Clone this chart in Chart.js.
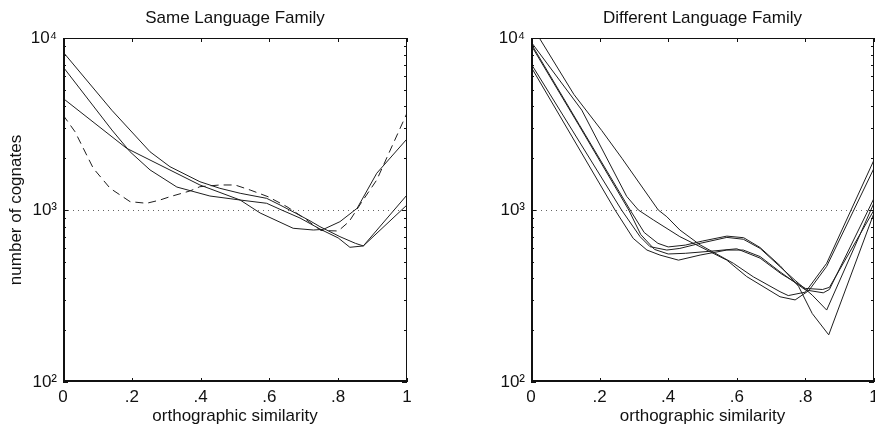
<!DOCTYPE html>
<html>
<head>
<meta charset="utf-8">
<script src="https://cdn.jsdelivr.net/npm/chart.js@4.4.1/dist/chart.umd.min.js"></script>
<style>
  html, body { margin: 0; padding: 0; background: #fff; }
  #wrap { position: relative; width: 875px; height: 428px; overflow: hidden; }
  #same { position: absolute; left: 0; top: 0; }
  #diff { position: absolute; left: 470px; top: 0; }
</style>
</head>
<body>
<div id="wrap">
  <canvas id="same" width="470" height="428"></canvas>
  <canvas id="diff" width="405" height="428"></canvas>
</div>
<script>
// axis ticks
const xTicks = [0, 0.2, 0.4, 0.6, 0.8, 1];
const xTickLabels = ['0', '.2', '.4', '.6', '.8', '1'];
const yTicks = [100, 1000, 10000];
const yTickLabels = ['10²', '10³', '10⁴'];
const refLevel = 1000; // dotted line

// Same Language Family  [similarity, number of cognates]
const sameA = [[0,8300],[0.142,3800],[0.253,2180],[0.311,1785],[0.398,1460],[0.456,1337],[0.515,1251],[0.592,1169],[0.631,1069],[0.677,957],[0.718,865],[0.747,800],[0.805,700],[0.85,640],[0.873,618],[1,1070]];
const sameB = [[0,6800],[0.142,2920],[0.195,2180],[0.253,1710],[0.331,1360],[0.427,1206],[0.515,1143],[0.573,961],[0.669,783],[0.728,765],[0.757,772],[0.805,855],[0.855,1023],[0.912,1635],[1,2590]];
const sameC = [[0,4460],[0.185,2284],[0.282,1826],[0.398,1398],[0.515,1143],[0.592,1094],[0.631,1009],[0.689,898],[0.747,775],[0.80,688],[0.834,607],[0.873,618],[1,1223]];
const sameDashed = [[0,3570],[0.035,2850],[0.088,1748],[0.137,1337],[0.195,1118],[0.243,1094],[0.282,1143],[0.311,1195],[0.369,1290],[0.398,1366],[0.456,1398],[0.50,1398],[0.544,1307],[0.596,1195],[0.651,1045],[0.70,900],[0.75,760],[0.80,755],[0.832,858],[0.868,1110],[0.912,1494],[1,3660]];

// Different Language Family
const diffA = [[0,12000],[0.125,4700],[0.206,2900],[0.265,2000],[0.371,1000],[0.396,914],[0.434,765],[0.493,627],[0.59,490],[0.648,409],[0.726,335],[0.75,318],[0.80,333],[0.862,490],[1,1954]];
const diffB = [[0,9500],[0.148,3810],[0.279,1200],[0.313,1000],[0.357,875],[0.434,700],[0.493,612],[0.571,511],[0.629,410],[0.726,313],[0.77,300],[0.81,340],[0.862,470],[1,1750]];
const diffC = [[0,9300],[0.14,3150],[0.289,1000],[0.33,740],[0.37,640],[0.40,610],[0.45,625],[0.50,660],[0.571,705],[0.62,690],[0.668,605],[0.726,475],[0.78,360],[0.82,250],[0.868,188],[1,960]];
const diffD = [[0,7100],[0.12,2915],[0.264,1000],[0.318,700],[0.347,612],[0.396,585],[0.434,598],[0.493,640],[0.571,693],[0.619,676],[0.668,598],[0.726,468],[0.77,390],[0.82,320],[0.862,262],[1,1100]];
const diffE = [[0,6800],[0.12,2660],[0.245,1000],[0.298,684],[0.338,585],[0.376,547],[0.43,511],[0.493,547],[0.571,585],[0.619,585],[0.668,536],[0.726,437],[0.80,343],[0.852,330],[0.87,345],[1,1170]];
const diffF = [[0,9100],[0.14,3100],[0.285,1000],[0.32,720],[0.36,590],[0.40,555],[0.45,560],[0.52,575],[0.6,595],[0.668,525],[0.73,425],[0.80,350],[0.85,345],[0.87,355],[1,1000]];

const ink = '#1e1e1e';
const textColor = '#111';
Chart.defaults.font.family = '"Liberation Sans", Arial, Helvetica, sans-serif';
Chart.defaults.color = textColor;

function series(pts, dashed) {
  return {
    data: pts.map(p => ({ x: p[0], y: p[1] })),
    borderColor: ink,
    borderWidth: 1,
    borderDash: dashed ? [8, 5] : [],
    pointRadius: 0,
    tension: 0,
    fill: false
  };
}

// box, inward ticks and the dotted 10^3 line, matlab style
const frame = {
  id: 'frame',
  beforeDatasetsDraw(chart) {
    const { ctx, chartArea: a } = chart;
    const y = Math.round(chart.scales.y.getPixelForValue(refLevel)) + 0.5;
    ctx.save();
    ctx.strokeStyle = '#666';
    ctx.lineWidth = 1;
    ctx.setLineDash([1, 4]);
    ctx.beginPath();
    ctx.moveTo(a.left, y);
    ctx.lineTo(a.right, y);
    ctx.stroke();
    ctx.restore();
  },
  afterDatasetsDraw(chart) {
    const { ctx, chartArea: a, scales } = chart;
    ctx.save();
    ctx.strokeStyle = '#111';
    ctx.lineWidth = 1;
    ctx.beginPath();
    xTicks.forEach(v => {
      const px = Math.round(scales.x.getPixelForValue(v)) + 0.5;
      ctx.moveTo(px, a.bottom); ctx.lineTo(px, a.bottom - 4);
      ctx.moveTo(px, a.top); ctx.lineTo(px, a.top + 4);
    });
    for (let d = yTicks[0]; d < yTicks[yTicks.length - 1]; d *= 10) {
      for (let m = 1; m < 10; m++) {
        const py = Math.round(scales.y.getPixelForValue(d * m)) + 0.5;
        const len = m === 1 ? 5 : 3;
        ctx.moveTo(a.left, py); ctx.lineTo(a.left + len, py);
        ctx.moveTo(a.right, py); ctx.lineTo(a.right - len, py);
      }
    }
    ctx.stroke();
    ctx.strokeRect(a.left + 0.5, a.top + 0.5, a.right - a.left - 1, a.bottom - a.top - 1);
    ctx.lineWidth = 2;
    ctx.beginPath();
    ctx.moveTo(a.left + 1, a.top);
    ctx.lineTo(a.left + 1, a.bottom - 1);
    ctx.lineTo(a.right, a.bottom - 1);
    ctx.stroke();
    ctx.restore();
  }
};

function makeChart(id, title, datasets, yWidth, padRight, showYTitle) {
  return new Chart(document.getElementById(id), {
    type: 'line',
    data: { datasets: datasets },
    options: {
      responsive: false,
      animation: false,
      devicePixelRatio: 1,
      layout: { padding: { left: 0, right: padRight, top: 0, bottom: 0 } },
      plugins: {
        legend: { display: false },
        tooltip: { enabled: false },
        title: {
          display: true, text: title, fullSize: false, color: textColor,
          font: { size: 17, weight: 'normal' },
          padding: { top: 8, bottom: 9.6 }
        }
      },
      scales: {
        x: {
          type: 'linear', min: 0, max: 1,
          grid: { display: false, drawTicks: false }, border: { display: false },
          afterBuildTicks: s => { s.ticks = xTicks.map(v => ({ value: v })); },
          afterFit: s => { s.height = 46; s.paddingLeft = 0; s.paddingRight = 0; },
          ticks: { autoSkip: false, maxRotation: 0, padding: 5, font: { size: 17 },
                   callback: (v, i) => xTickLabels[i] },
          title: { display: true, text: 'orthographic similarity', font: { size: 17 },
                   padding: { top: 0, bottom: 1 } }
        },
        y: {
          type: 'logarithmic', min: 100, max: 10000,
          grid: { display: false, drawTicks: false }, border: { display: false },
          afterBuildTicks: s => { s.ticks = yTicks.map(v => ({ value: v })); },
          afterFit: s => { s.width = yWidth; s.paddingTop = 0; s.paddingBottom = 0; },
          ticks: { autoSkip: false, padding: 6, font: { size: 17 },
                   callback: (v, i) => yTickLabels[i] },
          title: { display: showYTitle, text: 'number of cognates', font: { size: 17 },
                   padding: { top: 6, bottom: 0 } }
        }
      }
    },
    plugins: [frame]
  });
}

makeChart('same', 'Same Language Family',
  [series(sameA), series(sameB), series(sameC), series(sameDashed, true)], 63, 63, true);
makeChart('diff', 'Different Language Family',
  [series(diffA), series(diffB), series(diffC), series(diffD), series(diffE), series(diffF)], 61, 1, false);
</script>
</body>
</html>
